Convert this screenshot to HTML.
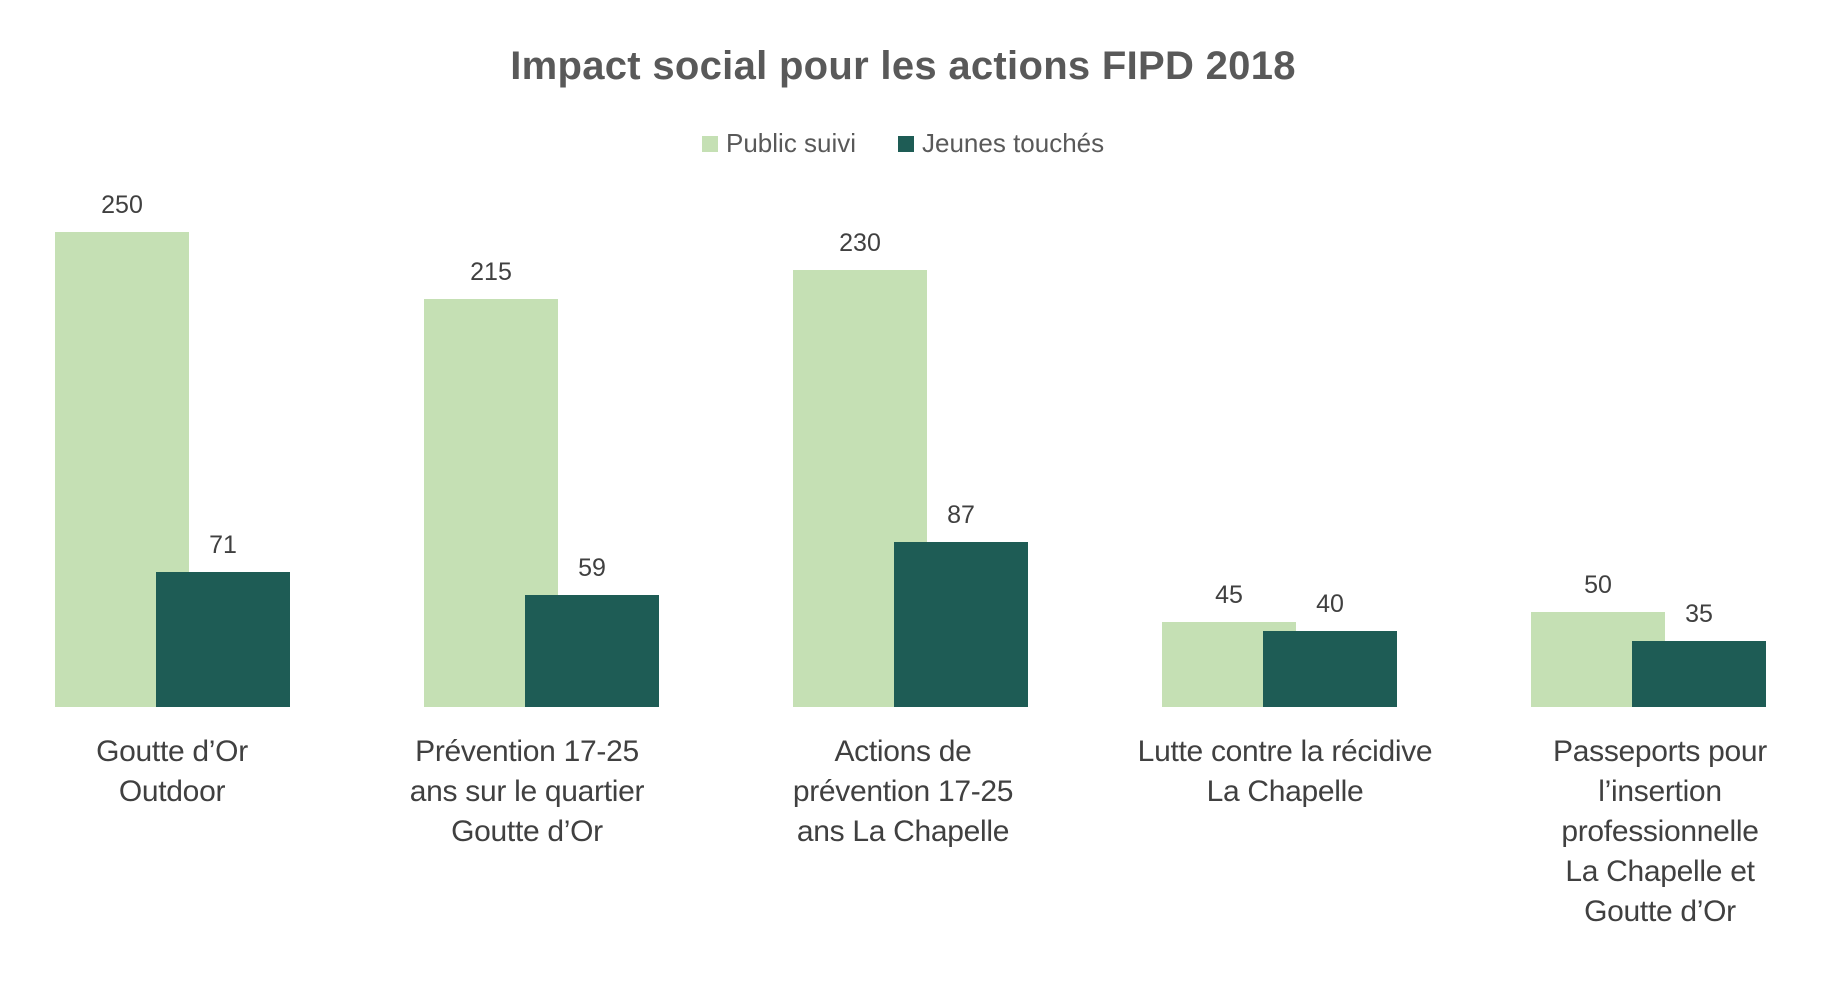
<!DOCTYPE html>
<html><head><meta charset="utf-8"><style>
body{margin:0;width:1834px;height:982px;background:#fff;overflow:hidden;position:relative;font-family:"Liberation Sans",sans-serif;color:#404040}
.t{position:absolute;white-space:nowrap}
.b{position:absolute}
.v{position:absolute;font-size:25px;transform:translateX(-50%);}
.c{position:absolute;font-size:30px;line-height:40px;text-align:center;transform:translateX(-50%);white-space:nowrap;letter-spacing:-0.3px}
</style></head><body>
<div class="t" style="left:0;width:1806px;text-align:center;top:44px;font-size:40px;font-weight:bold;color:#595959;letter-spacing:0.3px">Impact social pour les actions FIPD 2018</div>
<div class="b" style="left:702px;top:136px;width:16px;height:16px;background:#C5E0B4"></div>
<div class="t" style="left:726px;top:128px;font-size:26px;color:#595959">Public suivi</div>
<div class="b" style="left:898px;top:136px;width:16px;height:16px;background:#1E5C55"></div>
<div class="t" style="left:922px;top:128px;font-size:26px;color:#595959">Jeunes touchés</div>

<div id="g"></div>
<script>
var d=[[250,71,["Goutte d’Or","Outdoor"]],[215,59,["Prévention 17-25","ans sur le quartier","Goutte d’Or"]],[230,87,["Actions de","prévention 17-25","ans La Chapelle"]],[45,40,["Lutte contre la récidive","La Chapelle"]],[50,35,["Passeports pour","l’insertion","professionnelle","La Chapelle et","Goutte d’Or"]]];
var off=[0,-14,-7,6,12];
var h="",base=707,k=1.9,w=134;
d.forEach(function(e,i){var x=55+i*369;
var h1=e[0]*k,h2=e[1]*k;
h+='<div class="b" style="left:'+x+'px;top:'+(base-h1)+'px;width:'+w+'px;height:'+h1+'px;background:#C5E0B4"></div>';
h+='<div class="b" style="left:'+(x+101)+'px;top:'+(base-h2)+'px;width:'+w+'px;height:'+h2+'px;background:#1E5C55"></div>';
h+='<div class="v" style="left:'+(x+67)+'px;top:'+(base-h1-41)+'px">'+e[0]+'</div>';
h+='<div class="v" style="left:'+(x+168)+'px;top:'+(base-h2-41)+'px">'+e[1]+'</div>';
h+='<div class="c" style="left:'+(x+117+off[i])+'px;top:732px">'+e[2].join("<br>")+'</div>';
});
document.getElementById("g").innerHTML=h;
</script>
</body></html>
